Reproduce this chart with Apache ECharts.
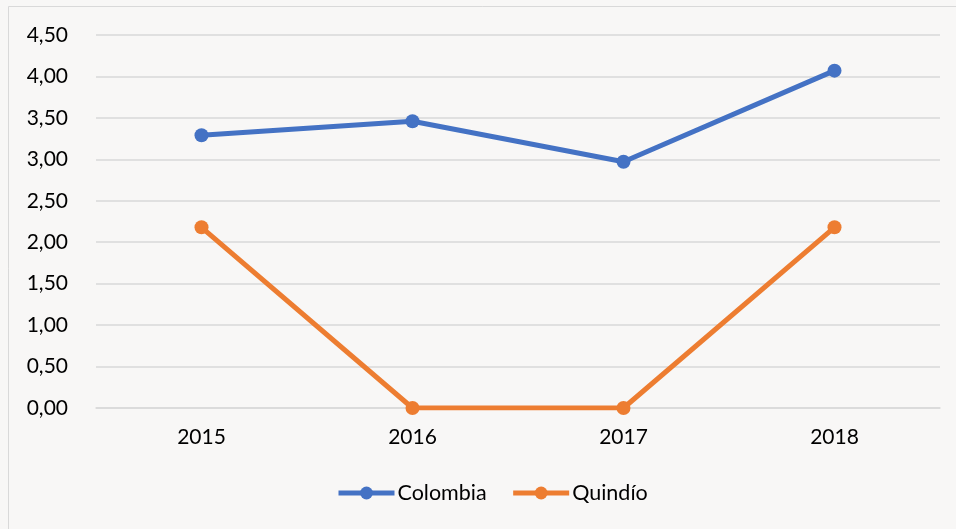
<!DOCTYPE html>
<html>
<head>
<meta charset="utf-8">
<script src="https://cdn.jsdelivr.net/npm/echarts@6/dist/echarts.min.js"></script>
<style>
  html, body { margin: 0; padding: 0; background: #f8f7f6; }
  #chart { width: 956px; height: 529px; }
</style>
</head>
<body>
<div id="chart"></div>
<script>
// categorías (años)
const years = ['2015', '2016', '2017', '2018'];
// valores por serie
const colombia = [3.29, 3.46, 2.97, 4.07];
const quindio = [2.18, 0, 0, 2.18];
// eje y
const yMin = 0;
const yMax = 4.5;
const yStep = 0.5;

const chart = echarts.init(document.getElementById('chart'));

const option = {
  backgroundColor: '#f8f7f6',
  textStyle: { fontFamily: 'Lato' },
  // marco del gráfico
  graphic: [{
    type: 'rect',
    shape: { x: 8.5, y: 6.5, width: 960, height: 540 },
    style: { fill: 'none', stroke: '#d9d9d9', lineWidth: 1 },
    silent: true
  }],
  grid: { left: 96, right: 16, top: 35, bottom: 121 },
  legend: {
    bottom: 20,
    left: 331,
    itemWidth: 56,
    itemHeight: 16,
    itemGap: 24,
    lineStyle: { width: 5 },
    textStyle: { fontSize: 21.5, color: '#000', fontFamily: 'Lato', padding: [0, 0, 0, -2] },
    data: ['Colombia', 'Quindío']
  },
  xAxis: {
    type: 'category',
    data: years,
    boundaryGap: true,
    axisLine: { show: true, lineStyle: { color: '#d9d9d9', width: 1.5 } },
    axisTick: { show: false },
    axisLabel: { fontSize: 21, color: '#000', margin: 19 }
  },
  yAxis: {
    type: 'value',
    min: yMin,
    max: yMax,
    interval: yStep,
    axisLine: { show: false },
    axisTick: { show: false },
    axisLabel: {
      fontSize: 21,
      color: '#000',
      margin: 28,
      formatter: v => v.toFixed(2).replace('.', ',')
    },
    splitLine: { lineStyle: { color: '#d9d9d9', width: 1.5 } }
  },
  series: [{
    name: 'Colombia',
    type: 'line',
    data: colombia,
    symbol: 'circle',
    symbolSize: 14,
    itemStyle: { color: '#4472c4' },
    lineStyle: { color: '#4472c4', width: 5 }
  }, {
    name: 'Quindío',
    type: 'line',
    data: quindio,
    symbol: 'circle',
    symbolSize: 14,
    itemStyle: { color: '#ed7d31' },
    lineStyle: { color: '#ed7d31', width: 5 }
  }]
};

chart.setOption(option);
</script>
</body>
</html>
